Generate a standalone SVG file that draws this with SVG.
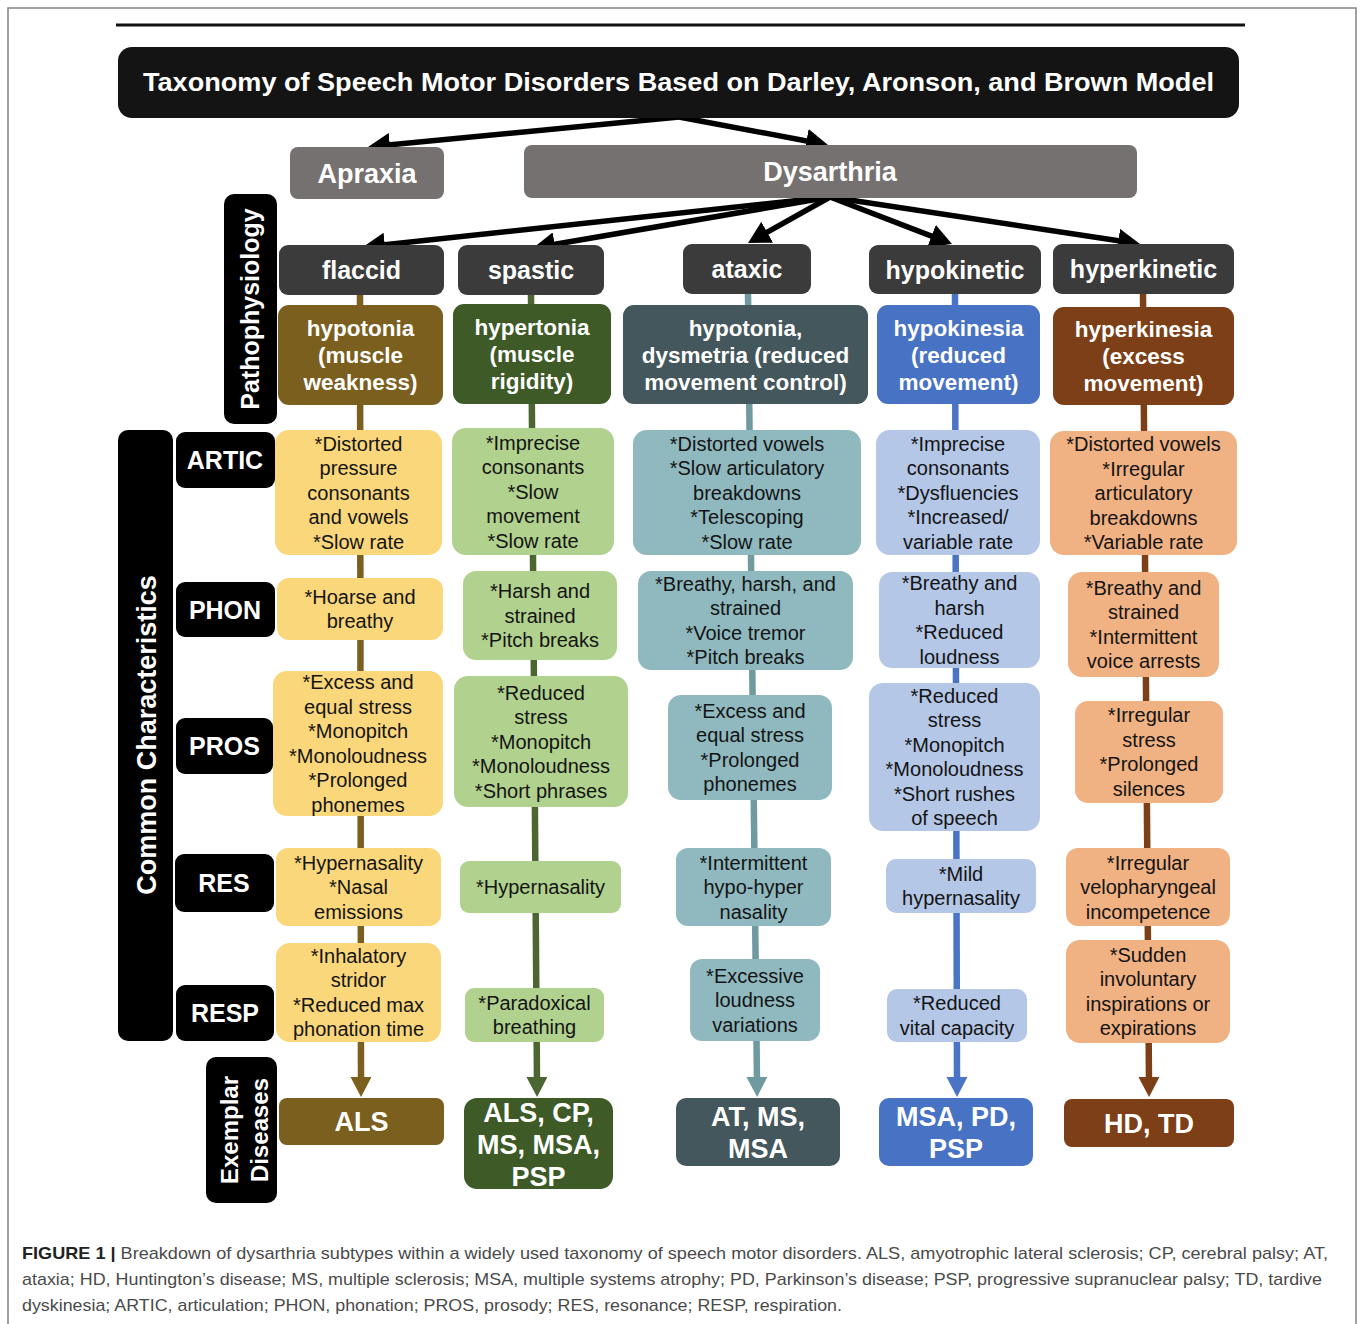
<svg xmlns="http://www.w3.org/2000/svg" width="1360" height="1324" viewBox="0 0 1360 1324">
<style>
  .frame{fill:none;stroke:#8a8a8a;stroke-width:1.6}
  .t{font-family:"Liberation Sans",Arial,sans-serif;text-anchor:middle}
  .b{font-weight:bold;fill:#fff}
  .body{font-size:20px;fill:#141414}
  .cat{font-size:25px}
  .pat{font-size:22.5px}
  .ex{font-size:27px}
  .lab{font-size:25px}
  .blk{fill:#000}
  .catbox{fill:#3b3b3b}
  .grey{fill:#767171}
  .blkline{stroke:#000;stroke-width:5.5;fill:none}
  .col{stroke-width:6.5;fill:none}
  .cap{font-family:"Liberation Sans",Arial,sans-serif;font-size:17px;fill:#4a4a4a}
</style>
<defs>
  <marker id="ab" viewBox="0 0 22 24" refX="7" refY="12" markerWidth="22" markerHeight="24" markerUnits="userSpaceOnUse" orient="auto"><path d="M0,0 L22,12 L0,24 z" fill="#000"/></marker>
  <marker id="a1" viewBox="0 0 20 21" refX="6" refY="10.5" markerWidth="20" markerHeight="21" markerUnits="userSpaceOnUse" orient="auto"><path d="M0,0 L20,10.5 L0,21 z" fill="#7b5f1e"/></marker>
  <marker id="a2" viewBox="0 0 20 21" refX="6" refY="10.5" markerWidth="20" markerHeight="21" markerUnits="userSpaceOnUse" orient="auto"><path d="M0,0 L20,10.5 L0,21 z" fill="#4b6630"/></marker>
  <marker id="a3" viewBox="0 0 20 21" refX="6" refY="10.5" markerWidth="20" markerHeight="21" markerUnits="userSpaceOnUse" orient="auto"><path d="M0,0 L20,10.5 L0,21 z" fill="#6f9aa0"/></marker>
  <marker id="a4" viewBox="0 0 20 21" refX="6" refY="10.5" markerWidth="20" markerHeight="21" markerUnits="userSpaceOnUse" orient="auto"><path d="M0,0 L20,10.5 L0,21 z" fill="#4a74c6"/></marker>
  <marker id="a5" viewBox="0 0 20 21" refX="6" refY="10.5" markerWidth="20" markerHeight="21" markerUnits="userSpaceOnUse" orient="auto"><path d="M0,0 L20,10.5 L0,21 z" fill="#7c3f17"/></marker>
</defs>
<rect width="1360" height="1324" fill="#fff"/>
<rect class="frame" x="8" y="8" width="1348" height="1340"/>
<line x1="116" y1="25" x2="1245" y2="25" stroke="#111" stroke-width="3"/>

<g id="connectors">
  <line class="blkline" x1="679" y1="117" x2="382.9" y2="145.6" marker-end="url(#ab)"/>
  <line class="blkline" x1="679" y1="117" x2="813.3" y2="142.2" marker-end="url(#ab)"/>
  <line class="blkline" x1="830" y1="197" x2="377.9" y2="245.4" marker-end="url(#ab)"/>
  <line class="blkline" x1="830" y1="197" x2="547.8" y2="245.5" marker-end="url(#ab)"/>
  <line class="blkline" x1="830" y1="197" x2="761.1" y2="235.7" marker-end="url(#ab)"/>
  <line class="blkline" x1="830" y1="197" x2="938.0" y2="238.6" marker-end="url(#ab)"/>
  <line class="blkline" x1="830" y1="197" x2="1125.2" y2="241.8" marker-end="url(#ab)"/>
  <line class="col" stroke="#7b5f1e" x1="360" y1="295" x2="361" y2="1083" marker-end="url(#a1)"/>
  <line class="col" stroke="#4b6630" x1="531" y1="295" x2="537" y2="1083" marker-end="url(#a2)"/>
  <line class="col" stroke="#6f9aa0" x1="748" y1="294" x2="757" y2="1083" marker-end="url(#a3)"/>
  <line class="col" stroke="#4a74c6" x1="955" y1="294" x2="957" y2="1083" marker-end="url(#a4)"/>
  <line class="col" stroke="#7c3f17" x1="1143" y1="294" x2="1149" y2="1083" marker-end="url(#a5)"/>
</g>

<g id="title">
  <rect x="118" y="47" width="1121" height="71" rx="14" fill="#141414"/>
  <text class="t b" x="678.5" y="91" font-size="26" textLength="1071" lengthAdjust="spacingAndGlyphs">Taxonomy of Speech Motor Disorders Based on Darley, Aronson, and Brown Model</text>
</g>
<g id="apraxia">
  <rect class="grey" x="290" y="147" width="154" height="52" rx="8"/>
  <text class="t b ex" x="367" y="182.5">Apraxia</text>
</g>
<g id="dysarthria">
  <rect class="grey" x="524" y="145" width="613" height="53" rx="8"/>
  <text class="t b ex" x="830" y="181">Dysarthria</text>
</g>

<g id="label-pathophysiology">
  <rect class="blk" x="224" y="194" width="53" height="230" rx="10"/>
  <text class="t b lab" transform="translate(250,309) rotate(-90)" x="0" y="9">Pathophysiology</text>
</g>
<g id="label-common">
  <rect class="blk" x="118" y="430" width="55" height="611" rx="10"/>
  <text class="t b" font-size="27" transform="translate(146,735) rotate(-90)" x="0" y="10">Common Characteristics</text>
</g>
<g id="label-artic"><rect class="blk" x="176" y="432" width="99" height="56" rx="9"/><text class="t b lab" x="225" y="469">ARTIC</text></g>
<g id="label-phon"><rect class="blk" x="176" y="582" width="99" height="55" rx="9"/><text class="t b lab" x="225" y="618.5">PHON</text></g>
<g id="label-pros"><rect class="blk" x="176" y="718" width="97" height="56" rx="9"/><text class="t b lab" x="224.5" y="755">PROS</text></g>
<g id="label-res"><rect class="blk" x="175" y="854" width="99" height="58" rx="9"/><text class="t b lab" x="224" y="892">RES</text></g>
<g id="label-resp"><rect class="blk" x="176" y="985" width="98" height="56" rx="9"/><text class="t b lab" x="225" y="1022">RESP</text></g>
<g id="label-exemplar">
  <rect class="blk" x="206" y="1057" width="71" height="146" rx="10"/>
  <text class="t b" font-size="24" transform="translate(241,1130) rotate(-90)"><tspan x="0" y="-3">Exemplar</tspan><tspan x="0" y="27">Diseases</tspan></text>
</g>

<!-- flaccid column -->
<g id="flaccid">
  <rect class="catbox" x="279" y="245" width="165" height="50" rx="9"/>
  <text class="t b cat" x="361.5" y="279">flaccid</text>
</g>
<g id="flaccid-patho">
  <rect x="278" y="305" width="165" height="100" rx="11" fill="#7b5f1e"/>
  <text class="t b pat"><tspan x="360.5" y="336">hypotonia</tspan><tspan x="360.5" y="363">(muscle</tspan><tspan x="360.5" y="390">weakness)</tspan></text>
</g>
<g id="flaccid-artic">
  <rect x="275" y="430" width="167" height="125" rx="14" fill="#fad77b"/>
  <text class="t body"><tspan x="358.5" y="450.5">*Distorted</tspan><tspan x="358.5" y="475">pressure</tspan><tspan x="358.5" y="499.5">consonants</tspan><tspan x="358.5" y="524">and vowels</tspan><tspan x="358.5" y="548.5">*Slow rate</tspan></text>
</g>
<g id="flaccid-phon">
  <rect x="277" y="578" width="166" height="62" rx="12" fill="#fad77b"/>
  <text class="t body"><tspan x="360" y="603.75">*Hoarse and</tspan><tspan x="360" y="628.25">breathy</tspan></text>
</g>
<g id="flaccid-pros">
  <rect x="273" y="671" width="170" height="145" rx="14" fill="#fad77b"/>
  <text class="t body"><tspan x="358" y="689.25">*Excess and</tspan><tspan x="358" y="713.75">equal stress</tspan><tspan x="358" y="738.25">*Monopitch</tspan><tspan x="358" y="762.75">*Monoloudness</tspan><tspan x="358" y="787.25">*Prolonged</tspan><tspan x="358" y="811.75">phonemes</tspan></text>
</g>
<g id="flaccid-res">
  <rect x="276" y="848" width="165" height="78" rx="12" fill="#fad77b"/>
  <text class="t body"><tspan x="358.5" y="869.5">*Hypernasality</tspan><tspan x="358.5" y="894">*Nasal</tspan><tspan x="358.5" y="918.5">emissions</tspan></text>
</g>
<g id="flaccid-resp">
  <rect x="276" y="943" width="165" height="99" rx="14" fill="#fad77b"/>
  <text class="t body"><tspan x="358.5" y="962.75">*Inhalatory</tspan><tspan x="358.5" y="987.25">stridor</tspan><tspan x="358.5" y="1011.75">*Reduced max</tspan><tspan x="358.5" y="1036.25">phonation time</tspan></text>
</g>
<g id="flaccid-disease">
  <rect x="279" y="1098" width="165" height="47" rx="8" fill="#7b5f1e"/>
  <text class="t b ex" x="361.5" y="1131">ALS</text>
</g>

<!-- spastic column -->
<g id="spastic">
  <rect class="catbox" x="458" y="245" width="146" height="50" rx="9"/>
  <text class="t b cat" x="531" y="279">spastic</text>
</g>
<g id="spastic-patho">
  <rect x="453" y="304" width="158" height="100" rx="11" fill="#3d5a27"/>
  <text class="t b pat"><tspan x="532" y="335">hypertonia</tspan><tspan x="532" y="362">(muscle</tspan><tspan x="532" y="389">rigidity)</tspan></text>
</g>
<g id="spastic-artic">
  <rect x="452" y="428" width="162" height="127" rx="14" fill="#b1d18f"/>
  <text class="t body"><tspan x="533" y="449.5">*Imprecise</tspan><tspan x="533" y="474">consonants</tspan><tspan x="533" y="498.5">*Slow</tspan><tspan x="533" y="523">movement</tspan><tspan x="533" y="547.5">*Slow rate</tspan></text>
</g>
<g id="spastic-phon">
  <rect x="463" y="571" width="154" height="89" rx="13" fill="#b1d18f"/>
  <text class="t body"><tspan x="540" y="598">*Harsh and</tspan><tspan x="540" y="622.5">strained</tspan><tspan x="540" y="647">*Pitch breaks</tspan></text>
</g>
<g id="spastic-pros">
  <rect x="454" y="676" width="174" height="131" rx="14" fill="#b1d18f"/>
  <text class="t body"><tspan x="541" y="699.5">*Reduced</tspan><tspan x="541" y="724">stress</tspan><tspan x="541" y="748.5">*Monopitch</tspan><tspan x="541" y="773">*Monoloudness</tspan><tspan x="541" y="797.5">*Short phrases</tspan></text>
</g>
<g id="spastic-res">
  <rect x="460" y="861" width="161" height="52" rx="9" fill="#b1d18f"/>
  <text class="t body" x="540.5" y="894">*Hypernasality</text>
</g>
<g id="spastic-resp">
  <rect x="465" y="988" width="139" height="54" rx="9" fill="#b1d18f"/>
  <text class="t body"><tspan x="534.5" y="1009.75">*Paradoxical</tspan><tspan x="534.5" y="1034.25">breathing</tspan></text>
</g>
<g id="spastic-disease">
  <rect x="464" y="1098" width="149" height="91" rx="13" fill="#3d5a27"/>
  <text class="t b ex"><tspan x="538.5" y="1121.5">ALS, CP,</tspan><tspan x="538.5" y="1153.5">MS, MSA,</tspan><tspan x="538.5" y="1185.5">PSP</tspan></text>
</g>

<!-- ataxic column -->
<g id="ataxic">
  <rect class="catbox" x="683" y="244" width="128" height="50" rx="9"/>
  <text class="t b cat" x="747" y="278">ataxic</text>
</g>
<g id="ataxic-patho">
  <rect x="623" y="305" width="245" height="99" rx="11" fill="#44575c"/>
  <text class="t b pat"><tspan x="745.5" y="335.5">hypotonia,</tspan><tspan x="745.5" y="362.5">dysmetria (reduced</tspan><tspan x="745.5" y="389.5">movement control)</tspan></text>
</g>
<g id="ataxic-artic">
  <rect x="633" y="430" width="228" height="125" rx="14" fill="#8fb9bf"/>
  <text class="t body"><tspan x="747" y="450.5">*Distorted vowels</tspan><tspan x="747" y="475">*Slow articulatory</tspan><tspan x="747" y="499.5">breakdowns</tspan><tspan x="747" y="524">*Telescoping</tspan><tspan x="747" y="548.5">*Slow rate</tspan></text>
</g>
<g id="ataxic-phon">
  <rect x="638" y="571" width="215" height="99" rx="13" fill="#8fb9bf"/>
  <text class="t body"><tspan x="745.5" y="590.75">*Breathy, harsh, and</tspan><tspan x="745.5" y="615.25">strained</tspan><tspan x="745.5" y="639.75">*Voice tremor</tspan><tspan x="745.5" y="664.25">*Pitch breaks</tspan></text>
</g>
<g id="ataxic-pros">
  <rect x="668" y="695" width="164" height="105" rx="13" fill="#8fb9bf"/>
  <text class="t body"><tspan x="750" y="717.75">*Excess and</tspan><tspan x="750" y="742.25">equal stress</tspan><tspan x="750" y="766.75">*Prolonged</tspan><tspan x="750" y="791.25">phonemes</tspan></text>
</g>
<g id="ataxic-res">
  <rect x="676" y="848" width="155" height="78" rx="12" fill="#8fb9bf"/>
  <text class="t body"><tspan x="753.5" y="869.5">*Intermittent</tspan><tspan x="753.5" y="894">hypo-hyper</tspan><tspan x="753.5" y="918.5">nasality</tspan></text>
</g>
<g id="ataxic-resp">
  <rect x="690" y="959" width="130" height="82" rx="12" fill="#8fb9bf"/>
  <text class="t body"><tspan x="755" y="982.5">*Excessive</tspan><tspan x="755" y="1007">loudness</tspan><tspan x="755" y="1031.5">variations</tspan></text>
</g>
<g id="ataxic-disease">
  <rect x="676" y="1098" width="164" height="68" rx="10" fill="#44575c"/>
  <text class="t b ex"><tspan x="758" y="1125.5">AT, MS,</tspan><tspan x="758" y="1157.5">MSA</tspan></text>
</g>

<!-- hypokinetic column -->
<g id="hypokinetic">
  <rect class="catbox" x="869" y="245" width="172" height="49" rx="9"/>
  <text class="t b cat" x="955" y="278.5">hypokinetic</text>
</g>
<g id="hypokinetic-patho">
  <rect x="877" y="305" width="163" height="99" rx="11" fill="#4872c3"/>
  <text class="t b pat"><tspan x="958.5" y="335.5">hypokinesia</tspan><tspan x="958.5" y="362.5">(reduced</tspan><tspan x="958.5" y="389.5">movement)</tspan></text>
</g>
<g id="hypokinetic-artic">
  <rect x="876" y="430" width="164" height="125" rx="14" fill="#b4c7e7"/>
  <text class="t body"><tspan x="958" y="450.5">*Imprecise</tspan><tspan x="958" y="475">consonants</tspan><tspan x="958" y="499.5">*Dysfluencies</tspan><tspan x="958" y="524">*Increased/</tspan><tspan x="958" y="548.5">variable rate</tspan></text>
</g>
<g id="hypokinetic-phon">
  <rect x="879" y="572" width="161" height="96" rx="13" fill="#b4c7e7"/>
  <text class="t body"><tspan x="959.5" y="590.25">*Breathy and</tspan><tspan x="959.5" y="614.75">harsh</tspan><tspan x="959.5" y="639.25">*Reduced</tspan><tspan x="959.5" y="663.75">loudness</tspan></text>
</g>
<g id="hypokinetic-pros">
  <rect x="869" y="683" width="171" height="148" rx="14" fill="#b4c7e7"/>
  <text class="t body"><tspan x="954.5" y="702.75">*Reduced</tspan><tspan x="954.5" y="727.25">stress</tspan><tspan x="954.5" y="751.75">*Monopitch</tspan><tspan x="954.5" y="776.25">*Monoloudness</tspan><tspan x="954.5" y="800.75">*Short rushes</tspan><tspan x="954.5" y="825.25">of speech</tspan></text>
</g>
<g id="hypokinetic-res">
  <rect x="886" y="859" width="150" height="54" rx="10" fill="#b4c7e7"/>
  <text class="t body"><tspan x="961" y="880.75">*Mild</tspan><tspan x="961" y="905.25">hypernasality</tspan></text>
</g>
<g id="hypokinetic-resp">
  <rect x="887" y="989" width="140" height="53" rx="10" fill="#b4c7e7"/>
  <text class="t body"><tspan x="957" y="1010.25">*Reduced</tspan><tspan x="957" y="1034.75">vital capacity</tspan></text>
</g>
<g id="hypokinetic-disease">
  <rect x="879" y="1098" width="154" height="68" rx="10" fill="#4872c3"/>
  <text class="t b ex"><tspan x="956" y="1125.5">MSA, PD,</tspan><tspan x="956" y="1157.5">PSP</tspan></text>
</g>

<!-- hyperkinetic column -->
<g id="hyperkinetic">
  <rect class="catbox" x="1053" y="244" width="181" height="50" rx="9"/>
  <text class="t b cat" x="1143.5" y="278">hyperkinetic</text>
</g>
<g id="hyperkinetic-patho">
  <rect x="1053" y="307" width="181" height="98" rx="11" fill="#7c3f17"/>
  <text class="t b pat"><tspan x="1143.5" y="337">hyperkinesia</tspan><tspan x="1143.5" y="364">(excess</tspan><tspan x="1143.5" y="391">movement)</tspan></text>
</g>
<g id="hyperkinetic-artic">
  <rect x="1050" y="431" width="187" height="124" rx="14" fill="#f0b183"/>
  <text class="t body"><tspan x="1143.5" y="451">*Distorted vowels</tspan><tspan x="1143.5" y="475.5">*Irregular</tspan><tspan x="1143.5" y="500">articulatory</tspan><tspan x="1143.5" y="524.5">breakdowns</tspan><tspan x="1143.5" y="549">*Variable rate</tspan></text>
</g>
<g id="hyperkinetic-phon">
  <rect x="1068" y="572" width="151" height="105" rx="14" fill="#f0b183"/>
  <text class="t body"><tspan x="1143.5" y="594.75">*Breathy and</tspan><tspan x="1143.5" y="619.25">strained</tspan><tspan x="1143.5" y="643.75">*Intermittent</tspan><tspan x="1143.5" y="668.25">voice arrests</tspan></text>
</g>
<g id="hyperkinetic-pros">
  <rect x="1075" y="701" width="148" height="102" rx="13" fill="#f0b183"/>
  <text class="t body"><tspan x="1149" y="722.25">*Irregular</tspan><tspan x="1149" y="746.75">stress</tspan><tspan x="1149" y="771.25">*Prolonged</tspan><tspan x="1149" y="795.75">silences</tspan></text>
</g>
<g id="hyperkinetic-res">
  <rect x="1066" y="848" width="164" height="78" rx="12" fill="#f0b183"/>
  <text class="t body"><tspan x="1148" y="869.5">*Irregular</tspan><tspan x="1148" y="894">velopharyngeal</tspan><tspan x="1148" y="918.5">incompetence</tspan></text>
</g>
<g id="hyperkinetic-resp">
  <rect x="1066" y="940" width="164" height="103" rx="14" fill="#f0b183"/>
  <text class="t body"><tspan x="1148" y="961.75">*Sudden</tspan><tspan x="1148" y="986.25">involuntary</tspan><tspan x="1148" y="1010.75">inspirations or</tspan><tspan x="1148" y="1035.25">expirations</tspan></text>
</g>
<g id="hyperkinetic-disease">
  <rect x="1064" y="1099" width="170" height="48" rx="8" fill="#7c3f17"/>
  <text class="t b ex" x="1149" y="1132.5">HD, TD</text>
</g>

<g id="caption">
  <text class="cap" x="22" y="1259" textLength="1306" lengthAdjust="spacingAndGlyphs"><tspan font-weight="bold" fill="#222">FIGURE 1 |</tspan> Breakdown of dysarthria subtypes within a widely used taxonomy of speech motor disorders. ALS, amyotrophic lateral sclerosis; CP, cerebral palsy; AT,</text>
  <text class="cap" x="22" y="1285" textLength="1300" lengthAdjust="spacingAndGlyphs">ataxia; HD, Huntington’s disease; MS, multiple sclerosis; MSA, multiple systems atrophy; PD, Parkinson’s disease; PSP, progressive supranuclear palsy; TD, tardive</text>
  <text class="cap" x="22" y="1311" textLength="820" lengthAdjust="spacingAndGlyphs">dyskinesia; ARTIC, articulation; PHON, phonation; PROS, prosody; RES, resonance; RESP, respiration.</text>
</g>
</svg>
